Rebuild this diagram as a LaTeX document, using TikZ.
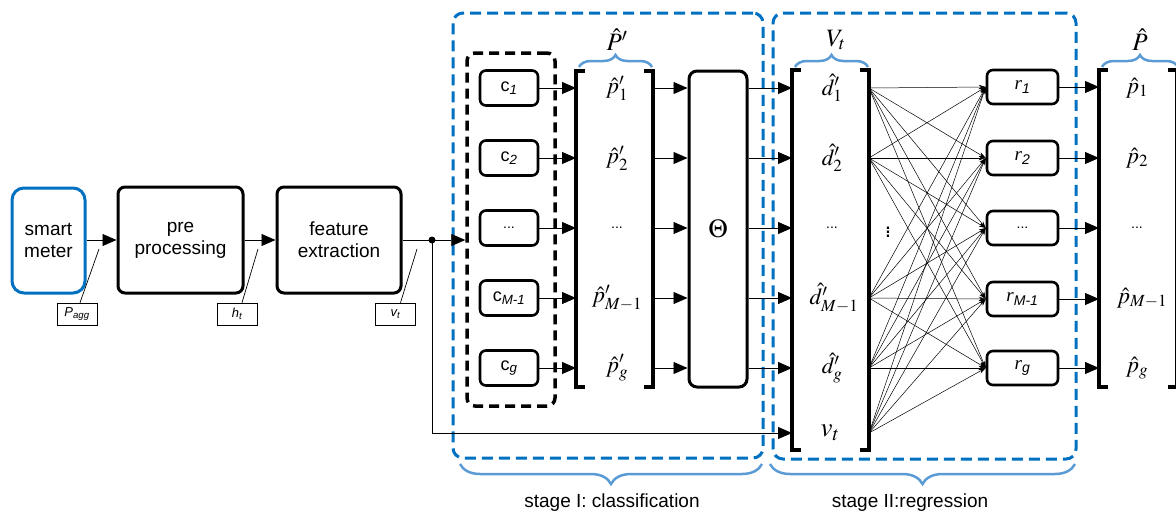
\documentclass[tikz,border=0pt]{standalone}
\usepackage{mathptmx}
\usepackage[no-math]{fontspec}
\setmainfont{Liberation Sans}
\newfontfamily\serifit{Liberation Serif}
\usetikzlibrary{arrows.meta,decorations.pathreplacing,calc}
\definecolor{dblue}{RGB}{0,112,192}
\definecolor{lblue}{RGB}{91,155,213}
\tikzset{
 box/.style={draw, line width=3pt, rounded corners=7pt, align=center, inner sep=0pt, font=\fontsize{19}{22}\selectfont},
 smallbox/.style={draw, line width=2.6pt, rounded corners=6pt, minimum width=58pt, minimum height=35pt, inner sep=0pt, font=\fontsize{18}{18}\selectfont},
 rbox/.style={draw, line width=2.6pt, rounded corners=6pt, minimum width=71pt, minimum height=34pt, inner sep=0pt, font=\fontsize{19}{19}\selectfont},
 lab/.style={draw, line width=0.6pt, minimum width=40pt, minimum height=22pt, inner sep=0pt, font=\fontsize{13}{13}\selectfont\itshape},
 arr/.style={line width=0.8pt, -{Triangle[length=14pt,width=12pt]}},
 fan/.style={line width=0.5pt, -{Stealth[length=7pt,width=4.5pt]}},
 brk/.style={line width=3.5pt},
 holder/.style={inner sep=0pt, outer sep=0pt},
 stagebox/.style={draw=dblue, line width=3pt, dash pattern=on 11pt off 6pt, rounded corners=10pt, inner sep=0pt},
 grpbox/.style={draw, line width=3.5pt, dash pattern=on 10pt off 6pt, rounded corners=8pt, inner sep=0pt},
 tbrace/.style={draw=lblue, line width=2.5pt, decorate, decoration={brace, amplitude=12pt}},
 bbrace/.style={draw=lblue, line width=2.5pt, decorate, decoration={brace, amplitude=20pt}},
 mth/.style={inner sep=0pt, font=\fontsize{23}{23}\selectfont},
 bmth/.style={inner sep=0pt, font=\fontsize{25}{25}\selectfont},
 dotsf/.style={inner sep=0pt, font=\fontsize{14}{14}\selectfont},
 stagelab/.style={inner sep=0pt, font=\fontsize{19}{19}\selectfont},
 leader/.style={line width=0.7pt},
}
\begin{document}
\begin{tikzpicture}[x=1pt,y=-1pt]
\useasboundingbox (0,0) rectangle (1176,512);
\clip (0,0) rectangle (1176,512);

% stage boxes
\node[stagebox, minimum width=310pt, minimum height=445pt] (s1) at (608,235.5) {};
\node[stagebox, minimum width=303pt, minimum height=446pt] (s2) at (924.5,236) {};

% left chain
\node[box, draw=dblue, rounded corners=12pt, minimum width=73pt, minimum height=105pt] (sm) at (48.5,240.5) {smart\\meter};
\node[box, minimum width=125pt, minimum height=106pt] (pre) at (180.5,240) {pre\\processing};
\node[box, minimum width=124pt, minimum height=106pt] (fe) at (339,240) {feature\\extraction};
\coordinate (dot) at (432,240);
\fill (dot) circle (3.5pt);

\draw[arr] (sm.east |- pre.west) -- (pre.west);
\draw[arr] (pre.east) -- (fe.west);
\draw[line width=0.8pt] (fe.east) -- (dot);

% signal labels
\node[lab] (pagg) at (77,314) {P\textsubscript{agg}};
\node[lab] (ht) at (237,314) {h\textsubscript{t}};
\node[lab] (vtb) at (395.5,314) {v\textsubscript{t}};
\coordinate (le1) at (99,249);
\coordinate (le2) at (258,249);
\coordinate (le3) at (417,249);
\draw[leader] ([xshift=3pt]pagg.north) -- (le1);
\draw[leader] ([xshift=5pt]ht.north) -- (le2);
\draw[leader] ([xshift=5pt]vtb.north) -- (le3);

% classifier group
\node[grpbox, minimum width=88pt, minimum height=353pt] (grp) at (511,229.5) {};
\draw[arr] (dot) -- (grp.west |- dot);

\node[smallbox] (c1) at (509,88) {c\textsubscript{\itshape 1}};
\node[smallbox] (c2) at (509,158) {c\textsubscript{\itshape 2}};
\node[smallbox] (c3) at (509,228) {\fontsize{14}{14}\selectfont ...};
\node[smallbox] (c4) at (509,298) {c\textsubscript{\itshape M-1}};
\node[smallbox] (c5) at (509,368) {c\textsubscript{\itshape g}};

% P' bracket
\node[holder, minimum width=77pt, minimum height=316pt] (Pp) at (614.5,229) {};
\draw[brk] ([xshift=9pt]Pp.north west) -- (Pp.north west) -- (Pp.south west) -- ([xshift=9pt]Pp.south west);
\draw[brk] ([xshift=-9pt]Pp.north east) -- (Pp.north east) -- (Pp.south east) -- ([xshift=-9pt]Pp.south east);
\node[mth] (pp1) at (617,88) {$\hat{p}'_1$};
\node[mth] (pp2) at (617,158) {$\hat{p}'_2$};
\node[dotsf] (pp3) at (617,228) {...};
\node[mth] (pp4) at (617,298) {$\hat{p}'_{M-1}$};
\node[mth] (pp5) at (617,368) {$\hat{p}'_g$};
\draw[tbrace] (579,67) -- (652,67);
\node[bmth] (PpL) at (617,40) {$\hat{P}'$};

% Theta
\node[box, rounded corners=8pt, minimum width=58pt, minimum height=316pt, font=\fontsize{26}{26}\selectfont] (th) at (718,229) {$\Theta$};

% V_t bracket
\node[holder, minimum width=77pt, minimum height=380pt] (Vt) at (830.5,260) {};
\draw[brk] ([xshift=9pt]Vt.north west) -- (Vt.north west) -- (Vt.south west) -- ([xshift=9pt]Vt.south west);
\draw[brk] ([xshift=-9pt]Vt.north east) -- (Vt.north east) -- (Vt.south east) -- ([xshift=-9pt]Vt.south east);
\node[mth] (d1) at (832,88) {$\hat{d}'_1$};
\node[mth] (d2) at (832,158) {$\hat{d}'_2$};
\node[dotsf] (d3) at (832,228) {...};
\node[mth] (d4) at (834,298) {$\hat{d}'_{M-1}$};
\node[mth] (d5) at (832,368) {$\hat{d}'_g$};
\node[inner sep=0pt, font=\fontsize{27}{27}\selectfont] (vtl) at (830,433) {$v_t$};
\draw[tbrace] (795,67) -- (868,67);
\node[bmth] (VtL) at (836,40) {$V_t$};
\node[mth] (vd) at (888,229) {$\vdots$};

% regressors
\node[rbox] (r1) at (1022.5,87) {{\serifit\itshape r}\textsubscript{\itshape 1}};
\node[rbox] (r2) at (1022.5,158) {{\serifit\itshape r}\textsubscript{\itshape 2}};
\node[rbox] (r3) at (1022.5,228) {\fontsize{14}{14}\selectfont ...};
\node[rbox] (r4) at (1022.5,299) {{\serifit\itshape r}\textsubscript{\itshape M-1}};
\node[rbox] (r5) at (1022.5,368) {{\serifit\itshape r}\textsubscript{\itshape g}};

% P hat bracket
\node[holder, minimum width=78pt, minimum height=317pt] (Ph) at (1138,228.5) {};
\draw[brk] ([xshift=9pt]Ph.north west) -- (Ph.north west) -- (Ph.south west) -- ([xshift=9pt]Ph.south west);
\draw[brk] ([xshift=-9pt]Ph.north east) -- (Ph.north east) -- (Ph.south east) -- ([xshift=-9pt]Ph.south east);
\node[mth] (ph1) at (1137,88) {$\hat{p}_1$};
\node[mth] (ph2) at (1137,158) {$\hat{p}_2$};
\node[dotsf] (ph3) at (1137,228) {...};
\node[mth] (ph4) at (1142,298) {$\hat{p}_{M-1}$};
\node[mth] (ph5) at (1137,368) {$\hat{p}_g$};
\draw[tbrace] (1102,67) -- (1178,67);
\node[bmth] (PhL) at (1140,40) {$\hat{P}$};

% connectors
\foreach \c in {c1,c2,c3,c4,c5}{
  \draw[arr] (\c.east) -- (\c.east -| Pp.west);
  \draw[arr] (Pp.east |- \c.east) -- (th.west |- \c.east);
  \draw[arr] (th.east |- \c.east) -- (Vt.west |- \c.east);
}
\draw[line width=0.8pt] (dot) -- (dot |- vtl);
\draw[arr] (dot |- vtl) -- (Vt.west |- vtl);

\foreach \s in {d1,d2,d4,d5,vtl}{
  \foreach \r in {r1,r2,r3,r4,r5}{
    \draw[fan] (Vt.east |- \s) -- (\r.west);
  }
}
\foreach \r in {r1,r2,r3,r4,r5}{
  \draw[arr] (\r.east) -- (Ph.west |- \r.east);
}

% stage braces
\draw[bbrace] (762,464) -- (460,464);
\draw[bbrace] (1075,464) -- (770,464);
\node[stagelab] (st1) at (612,503) {stage I: classification};
\node[stagelab] (st2) at (910,503) {stage II:regression};
\end{tikzpicture}
\end{document}
